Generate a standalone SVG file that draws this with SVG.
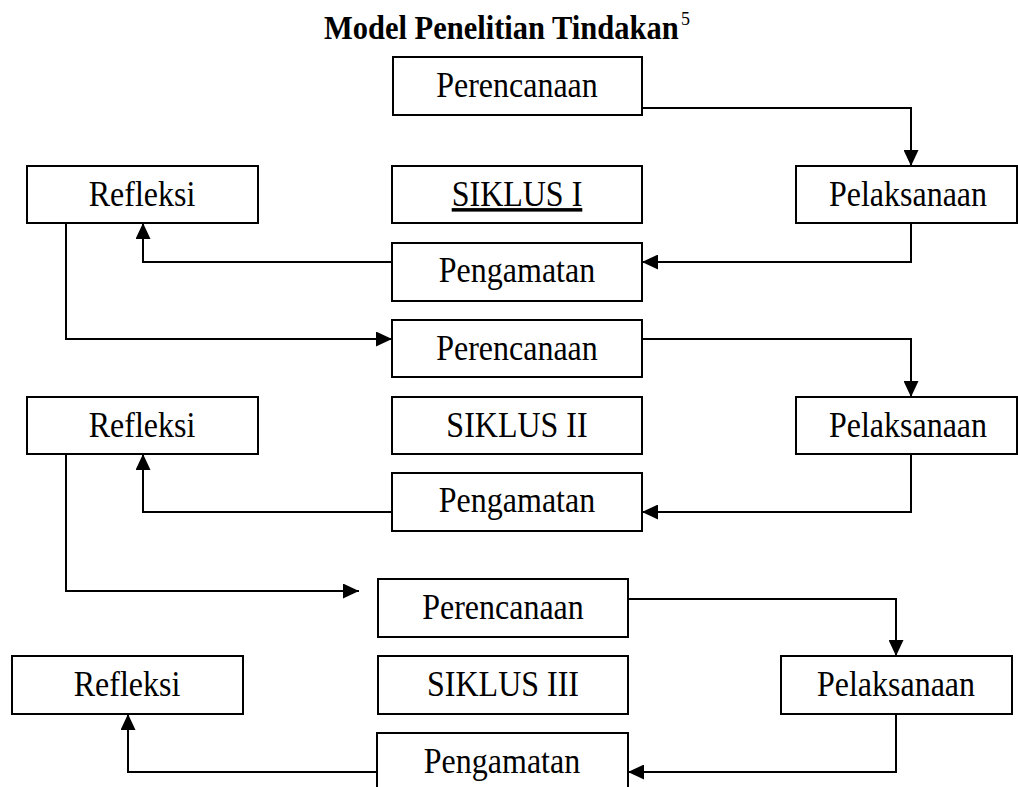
<svg xmlns="http://www.w3.org/2000/svg" width="1018" height="787" viewBox="0 0 1018 787">
<style>
  .box { fill: #ffffff; stroke: #000000; stroke-width: 2; }
  .lbl { font-family: "Liberation Serif", "Times New Roman", serif; font-size: 32px; fill: #000000; text-anchor: middle; }
  .title { font-family: "Liberation Serif", "Times New Roman", serif; font-size: 30.5px; font-weight: bold; fill: #000000; }
  .sup { font-family: "Liberation Serif", "Times New Roman", serif; font-size: 18px; fill: #000000; }
  .conn path { fill: none; stroke: #000000; stroke-width: 2; marker-end: url(#arr); }
</style>
<defs>
  <marker id="arr" markerUnits="userSpaceOnUse" markerWidth="16" markerHeight="15" refX="16" refY="7.5" orient="auto">
    <path d="M0,0 L16,7.5 L0,15 Z" fill="#000000"/>
  </marker>
</defs>
<rect width="1018" height="787" fill="#ffffff"/>
<g id="title">
  <text class="title" transform="matrix(1 0 0 1.1 324 39)">Model Penelitian Tindakan</text>
  <text class="sup" transform="matrix(1 0 0 1.1 681 25)">5</text>
</g>
<g id="connectors" class="conn">
  <path d="M642,108 H911 V166"/>
  <path d="M911,223 V262 H642"/>
  <path d="M392,262 H143 V223"/>
  <path d="M66,223 V339 H392"/>
  <path d="M642,339 H911 V397"/>
  <path d="M911,454 V512 H642"/>
  <path d="M392,512 H143 V454"/>
  <path d="M66,454 V591 H359"/>
  <path d="M628,599 H896 V656"/>
  <path d="M896,714 V772 H628"/>
  <path d="M377,772 H128 V714"/>
</g>
<g id="perencanaan1"><rect class="box" x="393" y="57" width="249" height="58"/><text class="lbl" transform="matrix(1 0 0 1.1 517 97)">Perencanaan</text></g>
<g id="refleksi1"><rect class="box" x="27" y="166" width="231" height="57"/><text class="lbl" transform="matrix(1 0 0 1.1 142 206)">Refleksi</text></g>
<g id="siklus1"><rect class="box" x="392" y="166" width="250" height="57"/><text class="lbl" transform="matrix(1 0 0 1.1 517 206)" text-decoration="underline">SIKLUS I</text></g>
<g id="pelaksanaan1"><rect class="box" x="796" y="166" width="221" height="57"/><text class="lbl" transform="matrix(1 0 0 1.1 908 206)">Pelaksanaan</text></g>
<g id="pengamatan1"><rect class="box" x="392" y="243" width="250" height="58"/><text class="lbl" transform="matrix(1 0 0 1.1 517 282)">Pengamatan</text></g>

<g id="perencanaan2"><rect class="box" x="392" y="320" width="250" height="57"/><text class="lbl" transform="matrix(1 0 0 1.1 517 360)">Perencanaan</text></g>
<g id="refleksi2"><rect class="box" x="27" y="397" width="231" height="57"/><text class="lbl" transform="matrix(1 0 0 1.1 142 437)">Refleksi</text></g>
<g id="siklus2"><rect class="box" x="392" y="397" width="250" height="57"/><text class="lbl" transform="matrix(1 0 0 1.1 517 437)">SIKLUS II</text></g>
<g id="pelaksanaan2"><rect class="box" x="796" y="397" width="221" height="57"/><text class="lbl" transform="matrix(1 0 0 1.1 908 437)">Pelaksanaan</text></g>
<g id="pengamatan2"><rect class="box" x="392" y="473" width="250" height="58"/><text class="lbl" transform="matrix(1 0 0 1.1 517 512)">Pengamatan</text></g>

<g id="perencanaan3"><rect class="box" x="378" y="579" width="250" height="58"/><text class="lbl" transform="matrix(1 0 0 1.1 503 619)">Perencanaan</text></g>
<g id="refleksi3"><rect class="box" x="12" y="656" width="231" height="58"/><text class="lbl" transform="matrix(1 0 0 1.1 127 696)">Refleksi</text></g>
<g id="siklus3"><rect class="box" x="378" y="656" width="250" height="58"/><text class="lbl" transform="matrix(1 0 0 1.1 503 696)">SIKLUS III</text></g>
<g id="pelaksanaan3"><rect class="box" x="781" y="656" width="231" height="58"/><text class="lbl" transform="matrix(1 0 0 1.1 896 696)">Pelaksanaan</text></g>
<g id="pengamatan3"><rect class="box" x="377" y="733" width="251" height="80"/><text class="lbl" transform="matrix(1 0 0 1.1 502 773)">Pengamatan</text></g>
</svg>
